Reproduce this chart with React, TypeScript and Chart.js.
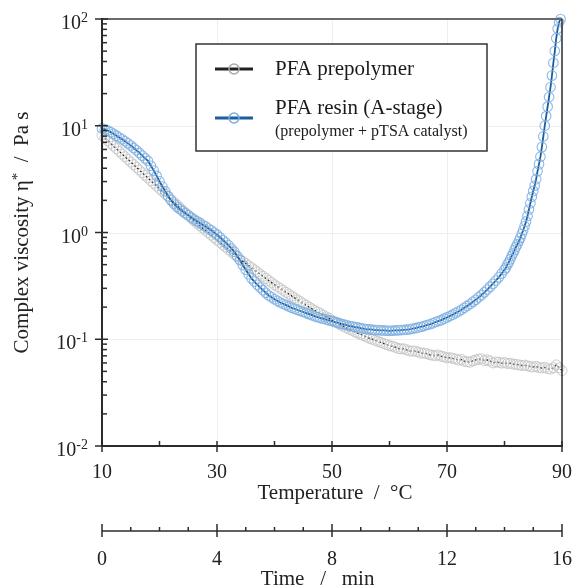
import React, { useEffect, useRef } from "react";
import { Chart, registerables } from "chart.js";

Chart.register(...registerables);

// ---------- data ----------
const prepolymerTemperature = [
  10, 10.5, 11, 11.5, 12, 12.5, 13, 13.5, 14, 14.5,
  15, 15.5, 16, 16.5, 17, 17.5, 18, 18.5, 19, 19.5,
  20, 20.5, 21, 21.5, 22, 22.5, 23, 23.5, 24, 24.5,
  25, 25.5, 26, 26.5, 27, 27.5, 28, 28.5, 29, 29.5,
  30, 30.5, 31, 31.5, 32, 32.5, 33, 33.5, 34, 34.5,
  35, 35.5, 36, 36.5, 37, 37.5, 38, 38.5, 39, 39.5,
  40, 40.5, 41, 41.5, 42, 42.5, 43, 43.5, 44, 44.5,
  45, 45.5, 46, 46.5, 47, 47.5, 48, 48.5, 49, 49.5,
  50, 50.5, 51, 51.5, 52, 52.5, 53, 53.5, 54, 54.5,
  55, 55.5, 56, 56.5, 57, 57.5, 58, 58.5, 59, 59.5,
  60, 60.5, 61, 61.5, 62, 62.5, 63, 63.5, 64, 64.5,
  65, 65.5, 66, 66.5, 67, 67.5, 68, 68.5, 69, 69.5,
  70, 70.5, 71, 71.5, 72, 72.5, 73, 73.5, 74, 74.5,
  75, 75.5, 76, 76.5, 77, 77.5, 78, 78.5, 79, 79.5,
  80, 80.5, 81, 81.5, 82, 82.5, 83, 83.5, 84, 84.5,
  85, 85.5, 86, 86.5, 87, 87.5, 88, 88.5, 89, 89.5,
  90,
];
const prepolymerViscosity = [
  8.13, 7.67, 7.24, 6.84, 6.46, 6.10, 5.75, 5.43, 5.13, 4.84,
  4.57, 4.32, 4.07, 3.85, 3.63, 3.43, 3.24, 3.05, 2.88, 2.72,
  2.57, 2.43, 2.29, 2.16, 2.04, 1.93, 1.82, 1.72, 1.62, 1.53,
  1.45, 1.36, 1.29, 1.22, 1.16, 1.10, 1.05, 0.994, 0.944, 0.896,
  0.851, 0.808, 0.767, 0.729, 0.692, 0.657, 0.624, 0.592, 0.562, 0.537,
  0.513, 0.490, 0.468, 0.447, 0.427, 0.407, 0.389, 0.372, 0.355, 0.339,
  0.324, 0.311, 0.299, 0.287, 0.275, 0.265, 0.254, 0.244, 0.234, 0.225,
  0.216, 0.208, 0.200, 0.193, 0.186, 0.180, 0.174, 0.168, 0.162, 0.157,
  0.151, 0.146, 0.141, 0.136, 0.132, 0.128, 0.124, 0.121, 0.117, 0.114,
  0.111, 0.108, 0.105, 0.102, 0.100, 0.0977, 0.0955, 0.0933, 0.0912, 0.0891,
  0.0871, 0.0860, 0.0841, 0.0820, 0.0813, 0.0812, 0.0794, 0.0776, 0.0776, 0.0772,
  0.0759, 0.0742, 0.0741, 0.0733, 0.0716, 0.0708, 0.0700, 0.0712, 0.0692, 0.0684,
  0.0668, 0.0673, 0.0661, 0.0653, 0.0638, 0.0645, 0.0622, 0.0615, 0.0610, 0.0628,
  0.0640, 0.0650, 0.0655, 0.0630, 0.0640, 0.0625, 0.0600, 0.0612, 0.0608, 0.0598,
  0.0605, 0.0592, 0.0596, 0.0585, 0.0582, 0.0575, 0.0568, 0.0572, 0.0562, 0.0555,
  0.0550, 0.0556, 0.0543, 0.0538, 0.0545, 0.0530, 0.0525, 0.0540, 0.0575, 0.0540,
  0.0510,
];

const resinTemperature = [
  10, 10.5, 11, 11.5, 12, 12.5, 13, 13.5, 14, 14.5,
  15, 15.5, 16, 16.5, 17, 17.5, 18, 18.5, 19, 19.5,
  20, 20.5, 21, 21.5, 22, 22.5, 23, 23.5, 24, 24.5,
  25, 25.5, 26, 26.5, 27, 27.5, 28, 28.5, 29, 29.5,
  30, 30.5, 31, 31.5, 32, 32.5, 33, 33.5, 34, 34.5,
  35, 35.5, 36, 36.5, 37, 37.5, 38, 38.5, 39, 39.5,
  40, 40.5, 41, 41.5, 42, 42.5, 43, 43.5, 44, 44.5,
  45, 45.5, 46, 46.5, 47, 47.5, 48, 48.5, 49, 49.5,
  50, 50.5, 51, 51.5, 52, 52.5, 53, 53.5, 54, 54.5,
  55, 55.5, 56, 56.5, 57, 57.5, 58, 58.5, 59, 59.5,
  60, 60.5, 61, 61.5, 62, 62.5, 63, 63.5, 64, 64.5,
  65, 65.5, 66, 66.5, 67, 67.5, 68, 68.5, 69, 69.5,
  70, 70.5, 71, 71.5, 72, 72.5, 73, 73.5, 74, 74.5,
  75, 75.5, 76, 76.5, 77, 77.5, 78, 78.5, 79, 79.5,
  80, 80.25, 80.5, 80.75, 81, 81.25, 81.5, 81.75, 82, 82.25,
  82.5, 82.75, 83, 83.25, 83.5, 83.75, 84, 84.25, 84.5, 84.75,
  85, 85.25, 85.5, 85.75, 86, 86.25, 86.5, 86.75, 87, 87.25,
  87.5, 87.75, 88, 88.25, 88.5, 88.75, 89, 89.25, 89.5, 89.75,
];
const resinViscosity = [
  9.44, 9.23, 9.02, 8.71, 8.41, 8.08, 7.76, 7.46, 7.16, 6.84,
  6.53, 6.20, 5.89, 5.56, 5.25, 4.95, 4.68, 4.22, 3.80, 3.39,
  3.02, 2.69, 2.43, 2.19, 2.00, 1.86, 1.74, 1.66, 1.58, 1.51,
  1.45, 1.39, 1.33, 1.28, 1.23, 1.18, 1.14, 1.09, 1.05, 1.00,
  0.955, 0.902, 0.851, 0.804, 0.759, 0.708, 0.661, 0.603, 0.550, 0.495,
  0.447, 0.407, 0.372, 0.347, 0.324, 0.305, 0.288, 0.272, 0.257, 0.247,
  0.237, 0.229, 0.221, 0.215, 0.209, 0.203, 0.197, 0.193, 0.188, 0.184,
  0.180, 0.176, 0.172, 0.168, 0.164, 0.161, 0.158, 0.156, 0.153, 0.150,
  0.148, 0.145, 0.143, 0.140, 0.138, 0.136, 0.133, 0.132, 0.130, 0.129,
  0.127, 0.126, 0.124, 0.124, 0.123, 0.122, 0.122, 0.121, 0.121, 0.1205,
  0.120, 0.1205, 0.121, 0.1213, 0.122, 0.1226, 0.123, 0.124, 0.126, 0.127,
  0.129, 0.131, 0.133, 0.136, 0.138, 0.141, 0.145, 0.148, 0.151, 0.156,
  0.160, 0.165, 0.170, 0.176, 0.182, 0.189, 0.197, 0.205, 0.214, 0.224,
  0.234, 0.247, 0.260, 0.275, 0.292, 0.311, 0.331, 0.355, 0.380, 0.412,
  0.447, 0.468, 0.501, 0.525, 0.562, 0.603, 0.638, 0.684, 0.733, 0.776,
  0.832, 0.891, 0.966, 1.05, 1.15, 1.27, 1.43, 1.64, 1.88, 2.16,
  2.45, 2.75, 3.16, 3.76, 4.37, 5.13, 6.31, 7.94, 10.0, 12.3,
  15.1, 18.6, 22.9, 29.5, 38.9, 50.1, 66.1, 81.3, 93.3, 100,
];

const temperatureMajorTicks = [10, 30, 50, 70, 90];
const temperatureMinorTicks = [20, 40, 60, 80];
const timeMajorTicks = [0, 4, 8, 12, 16];
const timeMinorTicks = [1, 2, 3, 5, 6, 7, 9, 10, 11, 13, 14, 15];
const viscosityDecadeExponents = [-2, -1, 0, 1, 2];
const viscosityExponentLabels = ["-2", "-1", "0", "1", "2"];
const viscosityMinorMantissas = [2, 3, 4, 5, 6, 7, 8, 9];

const seriesNames = ["PFA prepolymer", "PFA resin (A-stage)"];
const resinSubtitle = "(prepolymer + pTSA catalyst)";

const FONT = '"Liberation Serif", "Times New Roman", serif';
const AXIS = "#2b2b2b";

function seg(ctx: CanvasRenderingContext2D, x1: number, y1: number, x2: number, y2: number) {
  ctx.beginPath();
  ctx.moveTo(x1, y1);
  ctx.lineTo(x2, y2);
  ctx.stroke();
}

const gridPlugin = {
  id: "customGrid",
  beforeDatasetsDraw(chart: any) {
    const { ctx, chartArea: a, scales } = chart;
    const x = scales.x;
    const y = scales.y;
    ctx.save();
    ctx.strokeStyle = "#eeeeee";
    ctx.lineWidth = 1;
    for (const t of temperatureMajorTicks) {
      if (t === 10 || t === 90) continue;
      const px = Math.round(x.getPixelForValue(t)) + 0.5;
      seg(ctx, px, a.top, px, a.bottom);
    }
    for (const e of viscosityDecadeExponents) {
      if (e === -2 || e === 2) continue;
      const py = Math.round(y.getPixelForValue(Math.pow(10, e))) + 0.5;
      seg(ctx, a.left, py, a.right, py);
    }
    ctx.restore();
  },
};

const axesPlugin = {
  id: "customAxes",
  afterDraw(chart: any) {
    const { ctx, chartArea: a, scales } = chart;
    const x = scales.x;
    const x2 = scales.x2;
    const y = scales.y;
    ctx.save();

    // frame
    ctx.lineCap = "butt";
    ctx.strokeStyle = "#6a6a6a";
    ctx.lineWidth = 2;
    seg(ctx, a.left, a.top, a.right, a.top);
    ctx.strokeStyle = AXIS;
    ctx.lineWidth = 1.5;
    seg(ctx, a.right, a.top, a.right, a.bottom);
    ctx.lineWidth = 2;
    seg(ctx, a.left, a.top - 1, a.left, a.bottom + 1);
    seg(ctx, a.left - 1, a.bottom, a.right + 1, a.bottom);

    // y ticks
    ctx.lineWidth = 1.5;
    for (const e of viscosityDecadeExponents) {
      const py = y.getPixelForValue(Math.pow(10, e));
      seg(ctx, a.left - 7, py, a.left + 6, py);
      if (e < 2) {
        for (const m of viscosityMinorMantissas) {
          const pm = y.getPixelForValue(m * Math.pow(10, e));
          seg(ctx, a.left, pm, a.left + 5, pm);
        }
      }
    }
    // y tick labels: 10 with superscript exponent
    ctx.fillStyle = "#222";
    ctx.textBaseline = "alphabetic";
    viscosityDecadeExponents.forEach((e, i) => {
      const py = y.getPixelForValue(Math.pow(10, e));
      const exp = viscosityExponentLabels[i];
      ctx.font = `14px ${FONT}`;
      const ew = ctx.measureText(exp).width;
      const right = a.left - 14;
      ctx.textAlign = "left";
      ctx.fillText(exp, right - ew, py + 3);
      ctx.font = `20px ${FONT}`;
      ctx.textAlign = "right";
      ctx.fillText("10", right - ew, py + 10);
    });

    // temperature axis ticks
    for (const t of temperatureMajorTicks) {
      const px = x.getPixelForValue(t);
      seg(ctx, px, a.bottom - 5, px, a.bottom + 6);
    }
    for (const t of temperatureMinorTicks) {
      const px = x.getPixelForValue(t);
      seg(ctx, px, a.bottom - 5, px, a.bottom);
    }
    ctx.font = `20px ${FONT}`;
    ctx.textAlign = "center";
    for (const t of temperatureMajorTicks) {
      ctx.fillText(String(t), x.getPixelForValue(t), a.bottom + 32);
    }
    ctx.font = `21px ${FONT}`;
    ctx.fillText("Temperature  /  \u00B0C", x.getPixelForValue(50) + 3, a.bottom + 53);

    // time axis
    const ty = a.bottom + 85;
    ctx.lineWidth = 1.5;
    seg(ctx, x2.getPixelForValue(0), ty, x2.getPixelForValue(16), ty);
    for (const t of timeMajorTicks) {
      const px = x2.getPixelForValue(t);
      seg(ctx, px, ty - 7, px, ty + 6);
    }
    for (const t of timeMinorTicks) {
      const px = x2.getPixelForValue(t);
      seg(ctx, px, ty - 4, px, ty);
    }
    ctx.font = `20px ${FONT}`;
    for (const t of timeMajorTicks) {
      ctx.fillText(String(t), x2.getPixelForValue(t), ty + 34);
    }
    ctx.font = `21px ${FONT}`;
    ctx.fillText("Time   /   min", x2.getPixelForValue(7.5), ty + 54);

    // y title (rotated)
    ctx.save();
    ctx.translate(22, (a.top + a.bottom) / 2);
    ctx.rotate(-Math.PI / 2);
    ctx.textBaseline = "middle";
    ctx.textAlign = "left";
    const p1 = "Complex viscosity \u03B7";
    const p2 = "*";
    const p3 = "  /  Pa s";
    ctx.font = `21px ${FONT}`;
    const w1 = ctx.measureText(p1).width;
    const w3 = ctx.measureText(p3).width;
    ctx.font = `15px ${FONT}`;
    const w2 = ctx.measureText(p2).width;
    let cx = -(w1 + w2 + w3) / 2;
    ctx.font = `21px ${FONT}`;
    ctx.fillText(p1, cx, 0);
    cx += w1;
    ctx.font = `15px ${FONT}`;
    ctx.fillText(p2, cx, -4);
    cx += w2;
    ctx.font = `21px ${FONT}`;
    ctx.fillText(p3, cx, 0);
    ctx.restore();

    // legend
    const lx = 196, ly = 44, lw = 291, lh = 107;
    ctx.fillStyle = "#fff";
    ctx.fillRect(lx, ly, lw, lh);
    ctx.strokeStyle = "#333";
    ctx.lineWidth = 1.5;
    ctx.strokeRect(lx, ly, lw, lh);
    const entries = [
      { line: "#222222", marker: "#a8a8a8", y: 69 },
      { line: "#1d5c9e", marker: "#7aaede", y: 118 },
    ];
    entries.forEach((en) => {
      ctx.strokeStyle = en.line;
      ctx.lineWidth = 3;
      seg(ctx, 215, en.y, 253, en.y);
      ctx.strokeStyle = en.marker;
      ctx.lineWidth = 1.5;
      ctx.beginPath();
      ctx.arc(234, en.y, 5, 0, Math.PI * 2);
      ctx.stroke();
    });
    ctx.fillStyle = "#1a1a1a";
    ctx.textAlign = "left";
    ctx.textBaseline = "alphabetic";
    ctx.font = `21px ${FONT}`;
    ctx.fillText(seriesNames[0], 275, 75);
    ctx.fillText(seriesNames[1], 275, 114);
    ctx.font = `16px ${FONT}`;
    ctx.fillText(resinSubtitle, 275, 136);

    ctx.restore();
  },
};

export default function App() {
  const canvasRef = useRef<HTMLCanvasElement | null>(null);

  useEffect(() => {
    const canvas = canvasRef.current;
    if (!canvas) return;
    const prepolymerPoints = prepolymerTemperature.map((t, i) => ({ x: t, y: prepolymerViscosity[i] }));
    const resinPoints = resinTemperature.map((t, i) => ({ x: t, y: resinViscosity[i] }));

    const hiddenScale = {
      grid: { display: false, drawTicks: false },
      border: { display: false },
      ticks: { display: false },
      title: { display: false },
    };

    const chart = new Chart(canvas, {
      type: "scatter",
      data: {
        datasets: [
          {
            label: seriesNames[0],
            data: prepolymerPoints,
            showLine: true,
            order: 1,
            clip: false,
            borderColor: "#262626",
            borderWidth: 1.4,
            borderDash: [2, 2],
            backgroundColor: "rgba(0,0,0,0)",
            pointRadius: 5,
            pointBorderWidth: 1,
            pointBorderColor: "rgba(195,195,195,0.85)",
            pointBackgroundColor: "rgba(0,0,0,0)",
          },
          {
            label: seriesNames[1],
            data: resinPoints,
            showLine: true,
            order: 0,
            clip: false,
            borderColor: "#1b5a9c",
            borderWidth: 1.8,
            backgroundColor: "rgba(0,0,0,0)",
            pointRadius: 4.8,
            pointBorderWidth: 1.1,
            pointBorderColor: "rgba(122,174,224,0.85)",
            pointBackgroundColor: "rgba(0,0,0,0)",
          },
        ],
      },
      options: {
        responsive: false,
        animation: false,
        devicePixelRatio: 1,
        events: [],
        layout: { padding: { top: 19, right: 11, left: 0, bottom: 0 } },
        plugins: { legend: { display: false }, tooltip: { enabled: false } },
        scales: {
          x: {
            ...hiddenScale,
            type: "linear",
            position: "bottom",
            min: 10,
            max: 90,
            weight: 0,
            afterFit: (s: any) => {
              s.height = 60;
            },
          },
          x2: {
            ...hiddenScale,
            type: "linear",
            axis: "x",
            position: "bottom",
            min: 0,
            max: 16,
            weight: 1,
            afterFit: (s: any) => {
              s.height = 81;
            },
          },
          y: {
            ...hiddenScale,
            type: "logarithmic",
            position: "left",
            min: 0.01,
            max: 100,
            afterFit: (s: any) => {
              s.width = 102;
            },
          },
        },
      } as any,
      plugins: [gridPlugin, axesPlugin],
    });
    return () => chart.destroy();
  }, []);

  return (
    <div style={{ position: "fixed", left: 0, top: 0, width: 573, height: 587, background: "#fff" }}>
      <canvas ref={canvasRef} width={573} height={587} style={{ display: "block" }} />
    </div>
  );
}
